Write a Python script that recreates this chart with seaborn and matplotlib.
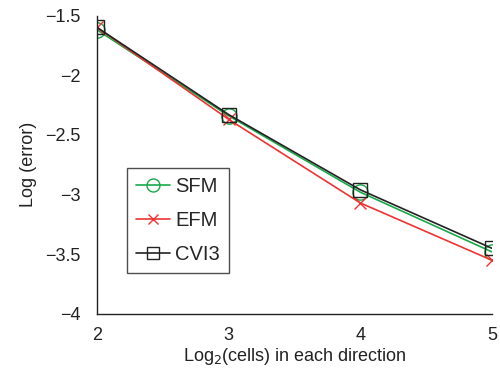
import matplotlib
matplotlib.use("Agg")
import matplotlib.pyplot as plt
import seaborn as sns
import pandas as pd

x_vals = [2, 3, 4, 5]
sfm = [-1.62, -2.34, -2.98, -3.48]
efm = [-1.60, -2.37, -3.07, -3.55]
cvi3 = [-1.60, -2.33, -2.96, -3.45]
x_ticks = [2, 3, 4, 5]
y_ticks = [-4, -3.5, -3, -2.5, -2, -1.5]
y_ticklabels = ["\u22124", "\u22123.5", "\u22123", "\u22122.5", "\u22122", "\u22121.5"]

sns.set_theme(style="white")
plt.rcParams['font.family'] = ['Liberation Sans', 'DejaVu Sans']

fig = plt.figure(figsize=(5.0, 3.76), dpi=100)
ax = fig.add_axes([97/500, (376-314)/376, (492-97)/500, (314-15.5)/376])

series = [
    ("SFM", sfm, "#1aa84a", "o", 11, 1.2),
    ("EFM", efm, "#ee3333", "x", 9, 1.2),
    ("CVI3", cvi3, "#222222", "s", 10, 1.2),
]
for name, vals, col, mk, ms, lw in series:
    df = pd.DataFrame({"x": x_vals, "y": vals})
    sns.lineplot(data=df, x="x", y="y", ax=ax, color=col, marker=mk,
                 markersize=ms, markerfacecolor="none", markeredgecolor=col,
                 markeredgewidth=1.0, linewidth=lw, label=name)

ax.set_xlim(2, 5)
ax.set_ylim(-4, -1.5)
ax.set_xticks(x_ticks)
ax.set_xticklabels([str(v) for v in x_ticks])
ax.set_yticks(y_ticks)
ax.set_yticklabels(y_ticklabels)
ax.tick_params(direction="in", length=4, width=1, labelsize=13, colors="#222222", pad=9)
ax.tick_params(axis="y", pad=12)
for s in ["top", "right"]:
    ax.spines[s].set_visible(False)
for s in ["left", "bottom"]:
    ax.spines[s].set_color("#222222")
    ax.spines[s].set_linewidth(1.0)
ax.set_xlabel("Log$_2$(cells) in each direction", fontsize=13, color="#222222", labelpad=2)
ax.set_ylabel("Log (error)", fontsize=13, color="#222222", labelpad=6)

leg = ax.legend(loc="upper left", bbox_to_anchor=((127-97)/395, (314-168)/298.5),
                borderaxespad=0, fontsize=14.5, frameon=True, fancybox=False,
                handlelength=1.7, borderpad=0.45, labelspacing=0.75, handletextpad=0.25,
                markerscale=0.85)
leg.get_frame().set_edgecolor("#222222")
leg.get_frame().set_linewidth(1.0)

fig.savefig("out.png", dpi=100, facecolor="white")
